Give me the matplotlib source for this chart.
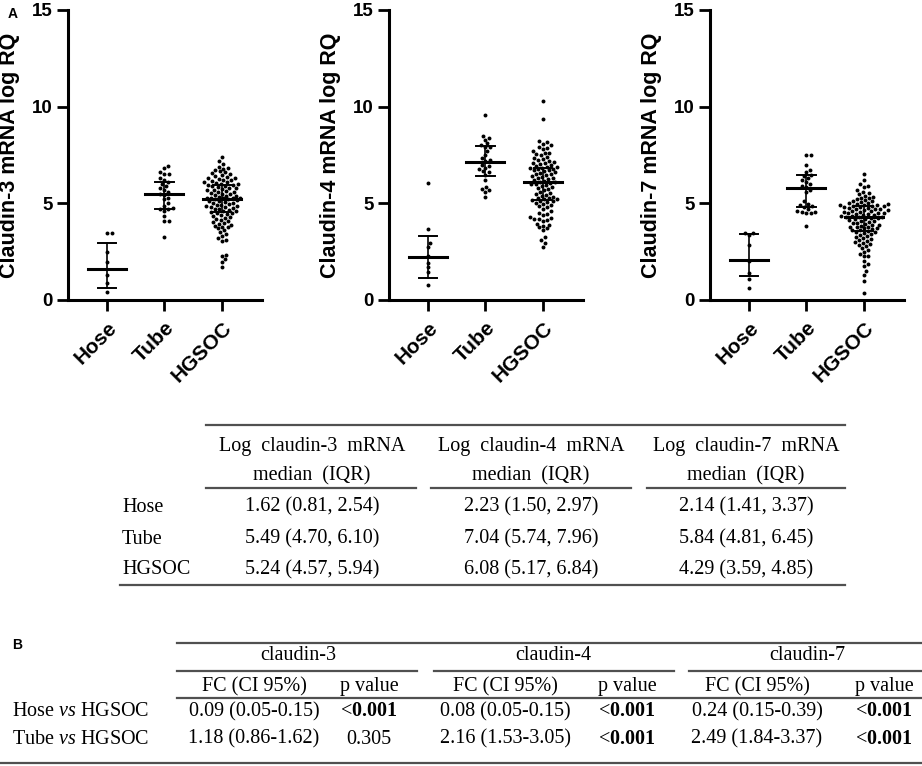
import numpy as np
import matplotlib.pyplot as plt
from matplotlib.lines import Line2D

plt.rcParams['font.family'] = 'Liberation Sans'
plt.rcParams['mathtext.fontset'] = 'custom'
plt.rcParams['mathtext.rm'] = 'Liberation Serif'
plt.rcParams['mathtext.it'] = 'Liberation Serif:italic'
plt.rcParams['mathtext.bf'] = 'Liberation Serif:bold'

W, H = 922, 766

groups = ["Hose", "Tube", "HGSOC"]
ylabels = ["Claudin-3 mRNA log RQ", "Claudin-4 mRNA log RQ", "Claudin-7 mRNA log RQ"]

# ---- scatter data (log RQ) ----
cl3_hose = [3.45, 3.45, 2.5, 1.98, 1.3, 0.86, 0.43]
cl3_tube = [6.95, 6.85, 6.6, 6.5, 6.5, 6.3, 6.2, 6.1, 6.0, 5.9, 5.8, 5.7, 5.6,
            5.5, 5.45, 5.3, 5.2, 5.0, 4.85, 4.75, 4.7, 4.7, 4.6, 4.35, 4.1, 4.1, 3.25]
cl3_hgsoc = [7.4, 7.2, 7.05, 6.9, 6.85, 6.8, 6.7, 6.65, 6.6, 6.55, 6.5, 6.45, 6.4,
             6.35, 6.3, 6.3, 6.25, 6.2, 6.2, 6.15, 6.1, 6.1, 6.05, 6.0, 6.0, 5.95,
             5.95, 5.9, 5.9, 5.85, 5.8, 5.8, 5.75, 5.7, 5.7, 5.65, 5.6, 5.6, 5.55,
             5.5, 5.5, 5.45, 5.4, 5.4, 5.35, 5.3, 5.3, 5.3, 5.25, 5.25, 5.2, 5.2,
             5.15, 5.1, 5.1, 5.05, 5.0, 5.0, 4.95, 4.9, 4.9, 4.85, 4.85, 4.8, 4.8,
             4.75, 4.7, 4.7, 4.65, 4.6, 4.6, 4.55, 4.5, 4.5, 4.45, 4.4, 4.35, 4.3,
             4.25, 4.2, 4.15, 4.1, 4.05, 4.0, 3.95, 3.9, 3.85, 3.8, 3.75, 3.7, 3.6,
             3.5, 3.4, 3.3, 3.2, 3.1, 3.05, 2.35, 2.3, 2.1, 1.95, 1.7]

cl4_hose = [6.03, 3.66, 2.96, 2.75, 2.3, 1.93, 1.69, 1.47, 0.78]
cl4_tube = [9.55, 8.5, 8.4, 8.3, 8.1, 8.0, 7.9, 7.9, 7.7, 7.5, 7.35, 7.25, 7.2,
            7.0, 6.95, 6.85, 6.75, 6.65, 6.6, 6.45, 6.2, 5.85, 5.75, 5.7, 5.6, 5.35]
cl4_hgsoc = [10.3, 9.35, 8.2, 8.15, 8.05, 8.0, 7.9, 7.85, 7.8, 7.7, 7.6, 7.6, 7.55,
             7.5, 7.4, 7.35, 7.3, 7.25, 7.2, 7.15, 7.1, 7.1, 7.05, 7.0, 6.95, 6.9,
             6.9, 6.85, 6.85, 6.8, 6.75, 6.7, 6.7, 6.65, 6.6, 6.55, 6.5, 6.5, 6.45,
             6.4, 6.35, 6.3, 6.3, 6.25, 6.2, 6.15, 6.1, 6.1, 6.05, 6.0, 6.0, 5.95,
             5.9, 5.85, 5.8, 5.75, 5.7, 5.6, 5.55, 5.5, 5.45, 5.4, 5.35, 5.3, 5.25,
             5.2, 5.2, 5.15, 5.1, 5.1, 5.05, 5.0, 4.95, 4.9, 4.85, 4.8, 4.7, 4.6,
             4.5, 4.45, 4.4, 4.3, 4.25, 4.2, 4.2, 4.15, 4.1, 3.95, 3.9, 3.85, 3.75,
             3.7, 3.6, 3.25, 3.1, 2.95, 2.75]

cl7_hose = [3.45, 3.45, 3.35, 2.85, 2.0, 1.4, 1.1, 0.6]
cl7_tube = [7.5, 7.5, 7.0, 6.7, 6.6, 6.45, 6.4, 6.3, 6.2, 6.1, 6.0, 5.9, 5.85, 5.7,
            5.6, 5.1, 4.95, 4.9, 4.85, 4.8, 4.7, 4.6, 4.55, 4.55, 4.5, 4.5, 3.85]
cl7_hgsoc = [6.5, 6.2, 6.0, 5.9, 5.85, 5.7, 5.6, 5.55, 5.5, 5.4, 5.35, 5.3, 5.25,
             5.2, 5.15, 5.1, 5.1, 5.05, 5.0, 5.0, 4.95, 4.95, 4.9, 4.9, 4.9, 4.85,
             4.85, 4.85, 4.8, 4.8, 4.75, 4.75, 4.7, 4.7, 4.7, 4.65, 4.65, 4.6, 4.6,
             4.55, 4.55, 4.5, 4.5, 4.5, 4.45, 4.45, 4.4, 4.4, 4.35, 4.35, 4.3, 4.3,
             4.3, 4.25, 4.25, 4.2, 4.2, 4.15, 4.1, 4.1, 4.05, 4.0, 4.0, 3.95, 3.9,
             3.9, 3.85, 3.8, 3.8, 3.75, 3.7, 3.7, 3.65, 3.6, 3.6, 3.55, 3.5, 3.5,
             3.45, 3.4, 3.35, 3.3, 3.25, 3.2, 3.15, 3.1, 3.05, 3.0, 2.95, 2.9, 2.85,
             2.8, 2.7, 2.6, 2.5, 2.4, 2.3, 2.25, 2.0, 1.85, 1.75, 1.5, 1.3, 1.0, 0.35]

# centre line and bar ends (centre, low, high) for each group
cl3_bars = [(1.60, 0.60, 2.96), (5.47, 4.69, 6.12), (5.24, 4.57, 5.94)]
cl4_bars = [(2.24, 1.16, 3.33), (7.14, 6.41, 7.97), (6.10, 5.17, 6.84)]
cl7_bars = [(2.07, 1.24, 3.41), (5.81, 4.81, 6.45), (4.29, 3.59, 4.85)]

# ---- table A: median (IQR) ----
tabA_genes = ["claudin-3", "claudin-4", "claudin-7"]
tabA_med = [[1.62, 2.23, 2.14], [5.49, 7.04, 5.84], [5.24, 6.08, 4.29]]
tabA_q1 = [[0.81, 1.50, 1.41], [4.70, 5.74, 4.81], [4.57, 5.17, 3.59]]
tabA_q3 = [[2.54, 2.97, 3.37], [6.10, 7.96, 6.45], [5.94, 6.84, 4.85]]

# ---- table B: fold change vs HGSOC ----
tabB_rows = ["Hose", "Tube"]
tabB_fc = [[0.09, 0.08, 0.24], [1.18, 2.16, 2.49]]
tabB_lo = [[0.05, 0.05, 0.15], [0.86, 1.53, 1.84]]
tabB_hi = [[0.15, 0.15, 0.39], [1.62, 3.05, 3.37]]
tabB_p = [["<0.001", "<0.001", "<0.001"], ["0.305", "<0.001", "<0.001"]]


def swarm(vals, d, ppu_y, ppu_x):
    """x offsets (data units) so that dots of d px do not overlap"""
    vals = np.asarray(vals, float)
    offs = np.zeros(len(vals))
    placed = []
    cands = [0.0]
    for k in range(1, 80):
        cands += [k * 0.5, -k * 0.5]
    for i in np.argsort(vals):
        y = vals[i] * ppu_y
        for c in cands:
            if all((c - px) ** 2 + (y - py) ** 2 >= d * d for px, py in placed):
                break
        placed.append((c, y))
        offs[i] = c / ppu_x
    return offs


fig = plt.figure(figsize=(W / 100, H / 100), dpi=100)


def fx(x):
    return x / W


def fy(y):
    return 1 - y / H


panels = [
    (68, [cl3_hose, cl3_tube, cl3_hgsoc], cl3_bars),
    (389, [cl4_hose, cl4_tube, cl4_hgsoc], cl4_bars),
    (710, [cl7_hose, cl7_tube, cl7_hgsoc], cl7_bars),
]
ax_w, ax_top, ax_bot = 194, 10, 300
ppu_y = (ax_bot - ax_top) / 15
ppu_x = ax_w / 3.38

for k, (left, data, bars) in enumerate(panels):
    ax = fig.add_axes([fx(left), fy(ax_bot), ax_w / W, (ax_bot - ax_top) / H])
    for i, vals in enumerate(data):
        xs = i + swarm(vals, 4.2, ppu_y, ppu_x)
        ax.scatter(xs, vals, s=8, color='black', linewidths=0, zorder=3)
        c, lo, hi = bars[i]
        ax.plot([i - 0.33, i + 0.33], [c, c], color='black', lw=2.2, zorder=4)
        ax.plot([i, i], [lo, hi], color='black', lw=1.2, zorder=4)
        for e in (lo, hi):
            ax.plot([i - 0.16, i + 0.16], [e, e], color='black', lw=1.4, zorder=4)
    ax.set_xlim(-0.68, 2.70)
    ax.set_ylim(0, 15)
    ax.set_yticks([0, 5, 10, 15])
    ax.set_xticks(range(3))
    ax.set_xticklabels(groups, rotation=45, ha='right', rotation_mode='anchor',
                       fontsize=15, fontweight='bold')
    for lab in ax.get_yticklabels():
        lab.set_fontsize(13.5)
        lab.set_fontweight('bold')
    ax.tick_params(width=2.0, length=8, direction='out', pad=3)
    ax.tick_params(axis='x', pad=5)
    for s in ['top', 'right']:
        ax.spines[s].set_visible(False)
    for s in ['left', 'bottom']:
        ax.spines[s].set_linewidth(2.2)
    ax.set_ylabel(ylabels[k], fontsize=15.5, fontweight='bold')
    ax.yaxis.set_label_coords(-0.245, 0.5)

fig.text(fx(8), fy(14), "A", fontsize=10, fontweight='bold', va='center')
fig.text(fx(12), fy(645), "B", fontsize=10, fontweight='bold', va='center')

rule_c = '#505050'
serif = 'Liberation Serif'


def hline(x0, x1, y, lw=1.6):
    fig.add_artist(Line2D([fx(x0), fx(x1)], [fy(y), fy(y)], color=rule_c, lw=lw))


def txt(x, y, s, ha='center', size=14.5, **kw):
    fig.text(fx(x), fy(y), s, ha=ha, va='center', family=serif, fontsize=size, **kw)


# table A
colA = [312, 531, 746]
segA = [(206, 416), (431, 631), (647, 845)]
hline(206, 845, 425)
for j, g in enumerate(tabA_genes):
    txt(colA[j], 447, "Log  " + g + "  mRNA")
    txt(colA[j], 476, "median  (IQR)")
    hline(segA[j][0], segA[j][1], 488)
rowsA_y = [507, 539, 570]
for i, g in enumerate(groups):
    txt(122, rowsA_y[i], g, ha='left')
    for j in range(3):
        txt(colA[j], rowsA_y[i],
            f"{tabA_med[i][j]:.2f} ({tabA_q1[i][j]:.2f}, {tabA_q3[i][j]:.2f})")
hline(120, 845, 585)

# table B
grpB = [298, 553, 807]
segB = [(177, 417), (434, 674), (689, 922)]
fcB = [254, 505, 757]
pB = [369, 627, 884]
hline(177, 922, 643)
for j in range(3):
    txt(grpB[j], 656, tabA_genes[j])
    hline(segB[j][0], segB[j][1], 671)
    txt(fcB[j], 687, "FC (CI 95%)")
    txt(pB[j], 687, "p value")
hline(177, 922, 698)
rowsB_y = [712, 739]
for i, r in enumerate(tabB_rows):
    txt(12, rowsB_y[i], r + r" $\mathit{vs}$ HGSOC", ha='left')
    for j in range(3):
        txt(fcB[j], rowsB_y[i],
            f"{tabB_fc[i][j]:.2f} ({tabB_lo[i][j]:.2f}-{tabB_hi[i][j]:.2f})")
        p = tabB_p[i][j]
        if p.startswith("<"):
            txt(pB[j], rowsB_y[i], r"<$\mathbf{" + p[1:] + "}$")
        else:
            txt(pB[j], rowsB_y[i], p)
hline(0, 922, 763)

fig.savefig("out.png", dpi=100)
